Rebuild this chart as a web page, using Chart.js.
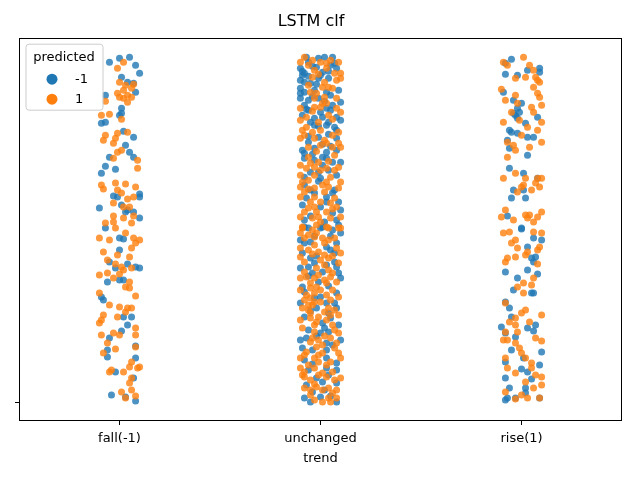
<!DOCTYPE html>
<html>
<head>
<meta charset="utf-8">
<script src="https://cdn.jsdelivr.net/npm/chart.js@4/dist/chart.umd.min.js"></script>
<style>
  body { margin: 0; background: #fff; }
  #wrap { width: 640px; height: 480px; position: relative; }
</style>
</head>
<body>
<div id="wrap"><canvas id="chart"></canvas></div>
<script>
const categories = ['fall(-1)', 'unchanged', 'rise(1)'];
const predictedLabels = ['-1', '1'];
const yTicks = [0]; // one tick on the y axis, no label

// each point: [jitter in hundredths of a category, value]
const fallNeg = [[-5,340],[0,344],[5,345],[8,337],[10,329],[1,325],[4,320],[7,319],[8,310],[-7,307],[1,294],[1,289],[0,287],[-7,280],[-9,279],[2,271],[7,265],[3,257],[5,250],[-5,245],[7,245],[-7,236],[-2,233],[-9,229],[-3,206],[-1,205],[10,208],[10,205],[-10,194],[1,197],[4,192],[7,190],[3,190],[10,184],
  [-7,174],[0,164],[2,163],[0,152],[-5,140],[4,138],[-2,134],[8,135],[10,134],[2,122],[0,122],[-6,120],[-9,105],[-8,102],[6,85],[2,85],[4,77],[1,71],[-5,64],[8,56],[-6,52],[-6,45],[8,44],[-2,30],[7,24],[-4,7],[3,5],[8,1]];
const fallPos = [[2,340],[-1,334],[0,320],[7,318],[3,317],[6,314],[2,312],[-1,309],[4,307],[6,305],[2,304],[0,305],[4,300],[-7,301],[-9,287],[-5,288],[1,283],[-1,269],[4,270],[-7,267],[-8,262],[-2,264],[-3,259],[1,252],[-1,250],[-3,244],[9,242],[9,234],[-9,217],[-8,213],[-2,219],[-1,212],[3,218],[8,215],[1,209],[-3,199],[4,203],[7,205],[2,195],[5,195],[-3,186],[2,184],[-7,179],[-3,180],[6,179],[7,186],
  [-2,174],[3,169],[-10,164],[-5,162],[7,164],[10,162],[8,159],[6,154],[-8,150],[-1,147],[5,145],[-6,142],[-2,138],[1,135],[2,132],[6,134],[-10,127],[-6,129],[-3,124],[0,128],[5,120],[3,115],[5,114],[-10,109],[-5,97],[8,106],[0,95],[4,94],[6,94],[3,90],[-8,87],[-9,82],[-10,79],[-1,85],[8,74],[8,67],[-9,67],[-3,69],[0,67],[-6,59],[-2,53],[8,55],[-8,49],[6,40],[9,34],[10,35],[5,35],[-5,30],[-4,32],[2,30],[6,24],[5,19],[6,12],[1,10],[8,6],[3,4]];

const flatNeg = [[-7,345],[-1,344],[2,345],[6,345],[7,339],[-10,334],[-8,329],[-2,335],[1,330],[5,337],[8,334],[-9,327],[-10,322],[-8,320],[-1,324],[4,324],[-5,319],[-10,314],[-8,310],[-3,312],[3,310],[9,312],[-10,309],[-10,304],[-1,304],[5,307],[-6,302],[10,300],[-8,297],[-6,292],[3,294],[5,292],[0,290],[-9,287],[-3,284],[1,285],[8,285],[-5,280],[10,282],[4,280],[-3,277],[3,277],[7,275],[8,272],[-6,260],[-1,265],[8,264],[-9,252],[-3,254],[3,250],[8,252],[-8,249],[-8,244],[-3,242],[1,245],[3,244],[6,240],[10,240],[1,237],[-5,230],[-1,230],[-8,225],[0,224],[8,227],[-8,217],[-5,212],[7,212],[-7,204],[3,205],[9,200],[-9,197],[0,195],[6,189],[10,192],[-8,182],[2,180],[8,182],[-6,174],[1,175],[9,177],
  [-8,175],[0,174],[6,172],[10,169],[-10,162],[-5,160],[8,159],[-8,159],[-9,149],[3,155],[5,152],[7,149],[-5,144],[-3,139],[7,140],[-10,134],[-6,135],[-4,129],[1,130],[8,135],[9,129],[-9,115],[-1,120],[10,124],[-8,110],[8,109],[-10,99],[0,105],[3,99],[7,99],[-2,94],[4,89],[8,94],[-8,85],[1,79],[9,77],[-6,72],[2,74],[4,70],[0,69],[-10,62],[-7,64],[3,59],[10,62],[-9,54],[-4,52],[3,52],[-8,42],[3,44],[8,39],[-6,32],[3,34],[8,32],[-2,24],[1,20],[8,19],[-4,10],[2,12],[-8,4],[0,5],[8,0],[-5,0],
  [-6,340],[-4,336],[-9,331],[-6,326],[-2,318],[0,327],[4,331],[-4,306],[2,301],[-7,293],[6,297],[-1,276],[4,268],[-6,266],[1,258],[-4,248],[5,256],[-1,221],[4,232],[-3,209],[6,209],[-5,186],[3,200],[-3,166],[5,166],[-2,146],[3,137],[-6,126],[4,116],[-3,104],[5,84],[-5,91],[-2,66],[6,57],[-4,38],[4,27],[-7,17],[5,6]];
const flatPos = [[-10,340],[-8,345],[-4,342],[3,339],[9,340],[0,340],[-6,337],[-3,332],[3,334],[10,329],[7,329],[-4,325],[2,320],[8,322],[10,324],[-6,317],[1,315],[6,314],[-2,309],[-3,304],[2,305],[8,304],[3,299],[1,299],[-10,294],[-3,295],[8,294],[10,290],[-7,285],[4,287],[-1,280],[-10,282],[-9,272],[-7,275],[0,272],[9,270],[-4,270],[-10,264],[-8,267],[-3,264],[2,262],[6,267],[9,259],[3,259],[-6,255],[0,257],[6,255],[10,255],[-6,245],[7,247],[-1,240],[-10,237],[-7,234],[-3,235],[3,234],[7,232],[9,235],[-10,227],[-6,222],[-3,227],[5,225],[3,220],[10,220],[-9,220],[-10,215],[-3,214],[1,217],[4,215],[9,214],[-8,210],[-10,205],[-3,205],[0,200],[7,204],[-5,200],[5,199],[-6,194],[-3,195],[3,190],[8,195],[-8,190],[-10,185],[-4,184],[-1,185],[5,184],[10,185],[-9,175],[-2,177],[4,174],[10,174],
  [-9,174],[-4,172],[3,175],[9,174],[-2,169],[-10,169],[-8,164],[-3,165],[1,164],[4,162],[7,164],[-3,157],[-10,154],[-6,152],[-1,150],[8,154],[10,149],[2,147],[-10,145],[-8,140],[0,142],[4,144],[9,139],[2,137],[-8,130],[-2,134],[4,132],[6,129],[-10,124],[-7,125],[-3,124],[2,122],[5,125],[8,120],[-5,119],[-10,112],[-5,114],[-3,109],[0,112],[3,107],[6,112],[-7,107],[-8,102],[-5,104],[-3,100],[5,102],[9,105],[-4,97],[-9,94],[-6,92],[-5,89],[2,90],[7,92],[9,87],[-10,82],[-5,84],[-2,80],[3,82],[6,77],[-3,77],[-9,74],[-3,70],[7,72],[9,69],[-5,60],[-1,62],[5,64],[8,59],[1,57],[-7,50],[-2,55],[1,49],[7,54],[9,49],[-8,47],[-10,44],[-3,44],[-1,40],[5,40],[10,44],[-6,37],[-10,34],[-8,30],[-3,34],[1,29],[6,30],[-1,27],[-9,27],[-8,25],[-5,22],[3,25],[7,22],[10,24],[-3,18],[-8,14],[-2,15],[4,14],[8,12],[-5,7],[6,9],[-3,2],[4,4],[5,0],[1,0],
  [5,342],[-1,328],[4,315],[-5,310],[0,295],[-4,291],[6,283],[-2,251],[4,241],[-5,239],[0,232],[-6,213],[2,210],[6,193],[-2,190],[0,180],[-6,167],[2,159],[-4,148],[6,146],[-1,127],[3,119],[-2,115],[0,100],[-6,97],[4,94],[-1,85],[5,87],[-4,64],[2,66],[-1,47],[3,37],[-5,12],[1,12],[8,4]];

const riseNeg = [[-8,339],[-5,343],[-8,328],[-2,327],[3,332],[9,334],[9,330],[-9,310],[-4,302],[0,299],[-2,294],[-1,290],[-4,289],[-3,287],[8,285],[-2,284],[2,279],[-6,272],[-5,270],[-2,269],[3,265],[6,265],[-7,262],[-6,254],[3,247],[-6,234],[1,229],[8,224],[-4,212],[1,212],[2,204],[-5,204],[-7,186],[0,174],
  [0,173],[3,155],[6,164],[10,162],[5,144],[7,145],[6,140],[-8,130],[3,132],[8,128],[-2,124],[-4,112],[6,109],[5,109],[-8,100],[-6,94],[-5,85],[7,77],[-10,75],[-8,69],[3,74],[6,71],[-3,65],[-5,52],[10,50],[1,44],[-8,40],[9,37],[0,33],[3,30],[5,23],[-8,24],[2,14],[-6,14],[2,9],[-8,2],[-7,4],[9,4],[-3,4]];
const risePos = [[-9,340],[-7,337],[1,345],[-3,324],[2,325],[4,337],[6,332],[7,325],[8,322],[9,320],[-10,313],[-8,302],[-3,307],[-2,299],[6,315],[8,309],[9,305],[10,297],[5,295],[6,290],[-5,290],[-9,280],[-1,282],[3,275],[10,280],[8,272],[0,267],[-7,260],[-4,257],[-3,252],[4,255],[10,260],[-7,245],[-3,229],[-9,224],[2,224],[8,224],[10,224],[7,219],[9,215],[5,212],[1,217],[-2,210],[0,215],[-8,192],[-10,185],[-4,182],[2,187],[4,187],[3,184],[6,180],[10,190],[8,185],
  [-9,169],[-6,170],[6,170],[10,169],[-5,159],[-3,162],[-2,154],[9,155],[8,152],[-8,140],[-7,144],[-3,145],[2,147],[3,150],[8,138],[6,124],[1,119],[-2,115],[5,117],[1,109],[-8,99],[0,89],[2,92],[10,87],[-3,84],[4,80],[-6,80],[-3,77],[-8,70],[-2,70],[7,64],[10,61],[-9,62],[-7,62],[-3,59],[-1,54],[0,49],[2,44],[-8,44],[-7,34],[5,39],[5,34],[-3,29],[7,27],[10,25],[2,20],[6,14],[10,17],[-8,10],[0,7],[3,4],[-3,3],[9,4]];

const seriesColors = ['rgba(31,119,180,0.8)', 'rgba(255,127,14,0.8)'];
const legendColors = ['#1f77b4', '#ff7f0e'];

function toPoints(groups) {
  const pts = [];
  groups.forEach((g, ci) => {
    g.forEach(p => pts.push({ x: ci + p[0] / 100, y: p[1] }));
  });
  return pts;
}

const frameAndLegend = {
  id: 'frameAndLegend',
  afterDraw(chart) {
    const ctx = chart.ctx;
    const a = chart.chartArea;
    ctx.save();
    ctx.strokeStyle = '#000';
    ctx.lineWidth = 1;
    ctx.strokeRect(Math.round(a.left) + 0.5, Math.round(a.top) + 0.5,
      Math.round(a.right - a.left) - 1, Math.round(a.bottom - a.top) - 1);

    // legend box, top left inside the axes
    const bx = a.left + 7, by = a.top + 6, bw = 77, bh = 66, r = 3;
    ctx.beginPath();
    ctx.moveTo(bx + r, by);
    ctx.arcTo(bx + bw, by, bx + bw, by + bh, r);
    ctx.arcTo(bx + bw, by + bh, bx, by + bh, r);
    ctx.arcTo(bx, by + bh, bx, by, r);
    ctx.arcTo(bx, by, bx + bw, by, r);
    ctx.closePath();
    ctx.fillStyle = 'rgba(255,255,255,0.8)';
    ctx.fill();
    ctx.strokeStyle = '#cccccc';
    ctx.stroke();

    ctx.fillStyle = '#000';
    ctx.font = '13px "DejaVu Sans"';
    ctx.textAlign = 'center';
    ctx.textBaseline = 'middle';
    ctx.fillText('predicted', bx + 38, by + 13);
    ctx.textAlign = 'left';
    predictedLabels.forEach((lab, i) => {
      const cy = by + 35 + i * 20;
      ctx.beginPath();
      ctx.arc(bx + 26, cy, 5.5, 0, Math.PI * 2);
      ctx.fillStyle = legendColors[i];
      ctx.fill();
      ctx.fillStyle = '#000';
      ctx.fillText(lab, bx + 49, cy);
    });
    ctx.restore();
  }
};

new Chart(document.getElementById('chart'), {
  type: 'scatter',
  data: {
    datasets: [
      {
        label: predictedLabels[0],
        data: toPoints([fallNeg, flatNeg, riseNeg]),
        backgroundColor: seriesColors[0],
        borderWidth: 0,
        pointRadius: 3.5,
        order: 1
      },
      {
        label: predictedLabels[1],
        data: toPoints([fallPos, flatPos, risePos]),
        backgroundColor: seriesColors[1],
        borderWidth: 0,
        pointRadius: 3.5,
        order: 0
      }
    ]
  },
  options: {
    responsive: true,
    maintainAspectRatio: false,
    animation: false,
    layout: { padding: { left: 0, right: 18, top: 0, bottom: 0 } },
    plugins: {
      legend: { display: false },
      tooltip: { enabled: false },
      title: {
        display: true,
        text: 'LSTM clf',
        color: '#000',
        font: { family: 'DejaVu Sans', size: 16, weight: 'normal' },
        padding: { top: 12, bottom: 7 }
      }
    },
    scales: {
      x: {
        type: 'linear',
        min: -0.5,
        max: 2.5,
        afterBuildTicks: (s) => { s.ticks = categories.map((c, i) => ({ value: i })); },
        afterFit: (s) => { s.height = 59; },
        ticks: {
          color: '#000',
          font: { family: 'DejaVu Sans', size: 13 },
          padding: 6,
          maxRotation: 0,
          callback: (v) => categories[v]
        },
        grid: { drawOnChartArea: false, tickLength: 4, tickColor: '#000' },
        border: { display: false },
        title: {
          display: true,
          text: 'trend',
          color: '#000',
          font: { family: 'DejaVu Sans', size: 13 },
          padding: { top: 0, bottom: 14 }
        }
      },
      y: {
        min: -19,
        max: 364,
        afterBuildTicks: (s) => { s.ticks = yTicks.map(v => ({ value: v })); },
        afterFit: (s) => { s.width = 19; },
        ticks: { callback: () => '', padding: 0 },
        grid: { drawOnChartArea: false, tickLength: 4, tickColor: '#000' },
        border: { display: false }
      }
    }
  },
  plugins: [frameAndLegend]
});
</script>
</body>
</html>
